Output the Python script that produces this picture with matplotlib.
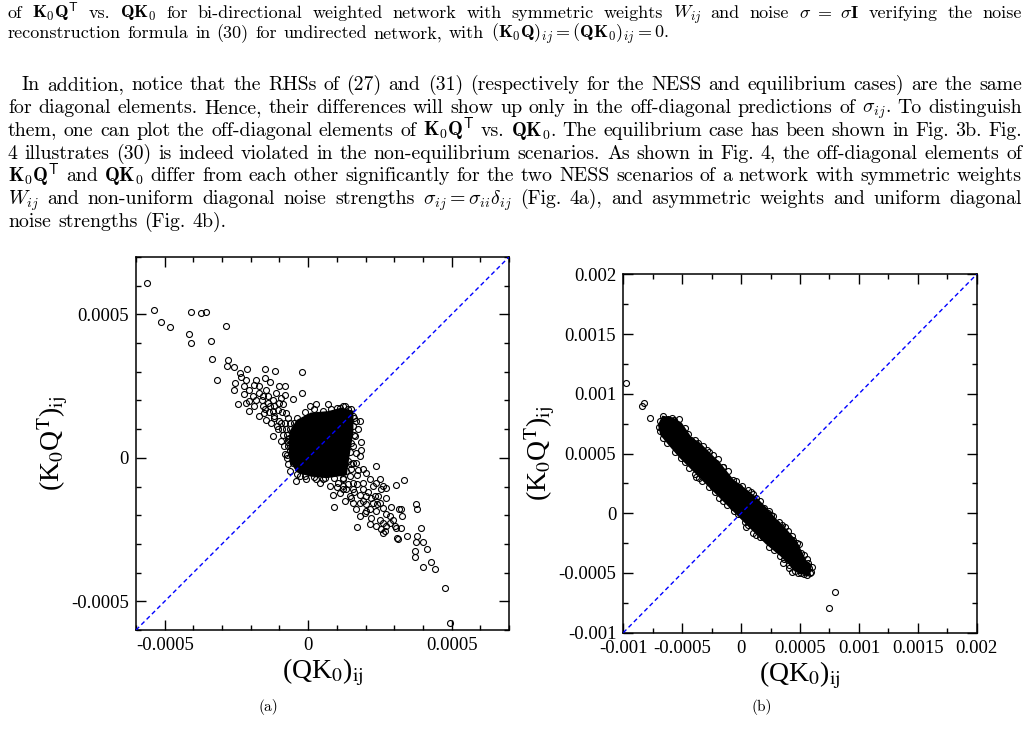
import numpy as np
import matplotlib
matplotlib.use("Agg")
import matplotlib.pyplot as plt

# ---- panel (a): values in units of 1e-4 ----
a_x = [-5.63, -5.38, -5.12, -4.81, -4.10, -4.15, -4.10, -3.73, -3.55, -3.38, -2.88, -3.36,
       -3.16, -2.80, -2.82, -2.58, -2.14, -1.52, -1.17, -2.38, -2.35, -2.56, -2.58, -2.45,
       -2.05, -2.25, -0.21, -0.21, -1.00, -0.79, -0.82, -0.54, -1.82, -1.70, -1.47, -1.59,
       -1.24, -1.93, -2.05, -1.59, -1.47, -1.24, -0.79, -0.75, -0.44, -0.63, -2.05, -2.23,
       -1.88, -1.33, -1.49, -2.17, -1.72, -1.41, -1.12, -0.94, -1.33, -1.06, -0.89, -0.77,
       -1.70, -1.53, -1.18, -0.94, -1.06, -0.89, -0.77, -1.29, -1.82, -2.17, -1.88, -1.24,
       -0.65, -0.71, -0.65, -0.54, -0.30, -0.07, 0.28, 0.57, 0.75, 0.40, 0.05, 0.28,
       0.69, 1.10, 1.39, 1.21, 1.56, 1.68, 1.79, 1.74, 1.62, 1.85, 1.56, 1.68, 1.56,
       0.89, 1.70, 2.35, 3.05, 3.34, 3.75, 3.78, 3.92, 3.80, 3.75, 3.72, 3.72, 4.01,
       4.15, 4.01, 4.28, 4.43, 4.78, 4.94, 3.44, 3.14, 3.11, 3.02, 2.84, 2.73, 2.49,
       2.38, 2.14, 2.61, 2.67, 3.18, 3.23, 2.90, 2.73, 2.55, 2.61, 2.38, 2.14, 2.03,
       1.91, 1.79, 1.56, 1.45, 1.33, 1.56, 1.45, 1.21, 0.86, 1.10, 1.68, 1.79, 1.85,
       1.74, 1.91, 2.03, 2.26, 2.14, 1.97, 2.38, 2.32, 2.49, 1.68, 1.79, 2.20, 1.56,
       1.21, 1.04, 1.33, 2.26, 2.49, 2.73, 2.43, 2.61, 2.84, 2.73, 2.55, 2.96, 3.28,
       3.06, 2.61, 3.25,
       # circles around the saturated centre
       -0.40, -0.10, 0.20, 0.50, 0.80, 1.00, 1.30, 1.50, 1.60, 1.55, 1.60, 1.50, 1.45,
       1.40, 1.50, 1.20, 0.90, 0.50, 0.20, -0.10, -0.40, -0.70, -0.72, -0.70, -0.68,
       -0.62, -0.50,
       # denser parts of the two arms
       -1.40, -1.20, -1.00, -0.90, -0.70, -0.80, -1.00, -1.10, -0.90, -0.75, -1.20, -1.35,
       -1.50, -1.60, -0.95, -0.85, -0.70,
       1.00, 1.20, 1.40, 1.60, 1.80, 1.50, 1.30, 1.90, 2.00, 2.10, 1.70, 1.90, 1.20,
       1.50, 1.70, 2.20, 2.40, 2.00]
a_y = [6.09, 5.16, 4.74, 4.57, 5.09, 4.32, 4.01, 5.05, 5.10, 4.06, 4.59, 3.43,
       2.73, 3.40, 3.21, 3.17, 3.10, 3.11, 3.02, 2.94, 2.82, 2.61, 2.38, 1.89,
       1.62, 2.24, 2.98, 2.26, 2.52, 2.52, 2.20, 2.06, 2.70, 2.49, 2.38, 2.15,
       2.03, 2.15, 1.97, 1.80, 1.33, 0.75, 0.12, 0.00, -0.81, -0.46, 2.38, 2.49,
       2.55, 2.63, 2.78, 2.73, 2.26, 2.15, 2.26, 2.09, 1.80, 1.68, 1.86, 1.57,
       1.45, 1.57, 1.45, 1.22, 0.99, 0.81, 0.99, 1.22, 2.03, 1.91, 1.80, 1.62,
       1.22, 0.64, 0.29, -0.17, -0.64, -0.75, -0.75, -0.70, -0.99, -0.87, 1.80, 1.86,
       1.86, 1.74, 1.71, 1.80, 1.45, 1.28, 1.28, 0.99, 0.75, 0.55, 0.41, 0.17, -0.17,
       -1.72, -2.40, -0.29, -0.93, -0.78, -1.60, -1.77, -2.45, -2.73, -2.92, -3.23, -3.45, -2.94,
       -3.19, -3.79, -3.62, -3.87, -4.54, -5.74, -2.73, -2.84, -2.78, -2.38, -2.26, -1.97, -2.15,
       -2.38, -2.32, -2.61, -2.55, -1.80, -1.77, -1.71, -1.39, -1.10, -0.99, -0.87, -0.75, -0.52,
       -0.87, -1.57, -1.57, -1.33, -1.10, -0.87, -0.64, -0.75, -1.28, -1.22, -0.17, 0.06, 0.29,
       -0.41, -1.10, -1.33, -1.57, -1.80, -1.91, -1.86, -1.33, -1.57, -1.80, -2.03, -2.09, -1.10,
       -0.99, -0.87, -0.46, -0.99, -0.75, -1.05, -1.33, -1.74, -2.03, -2.38, -2.49, -2.15, -2.03,
       -2.44, -2.26, -2.44,
       1.40, 1.60, 1.70, 1.65, 1.70, 1.75, 1.80, 1.70, 1.40, 1.10, 0.80, 0.50, 0.20,
       -0.10, -0.40, -0.70, -0.70, -0.72, -0.68, -0.62, -0.55, -0.20, 0.10, 0.40, 0.70,
       1.00, 1.20,
       1.90, 1.80, 1.90, 1.60, 1.40, 1.20, 1.30, 1.10, 1.00, 0.80, 1.40, 1.60,
       1.70, 2.00, 0.60, 0.40, 0.55,
       -1.00, -1.10, -0.90, -1.20, -1.30, -1.40, -1.50, -1.50, -1.60, -1.20, -0.60, -0.40, -0.45,
       -0.20, -0.90, -1.40, -1.60, -1.85]
# saturated (solid black) centre of the cloud, outline
a_core_x = [-0.66, -0.62, -0.38, 0.10, 0.70, 1.15, 1.55, 1.55, 1.42, 1.32, 0.65, 0.05, -0.38, -0.62]
a_core_y = [0.40, 0.92, 1.30, 1.55, 1.60, 1.72, 1.62, 0.90, 0.10, -0.58, -0.68, -0.62, -0.48, -0.10]

# ---- panel (b): values in units of 1e-4 ----
b_x = [-9.76, -8.40, -8.23, -7.73, 7.44, 8.01,
       -6.99, -6.65, -6.85, -6.42, -5.66, -5.29, -5.52, -6.08, -5.01, -4.24, -3.68, -3.96, -4.67,
       -5.09, -3.82, -3.54, -2.41, -1.84, -0.71, 0.42, 0.99, 1.84,
       -2.69, -2.12, -1.56, -0.71, -0.14, 0.57, 1.27, 1.98, 2.26, 2.55, 2.97, 3.40, 3.71,
       4.39, 4.75, 4.67, 5.09, 5.38, 5.66, 5.80, 5.86, 5.52, 5.09, 4.81, 4.33, 4.10, 3.54,
       4.39, 3.82,
       # upper fringe of the band
       -6.2, -5.9, -4.8, -4.5, -3.9, -3.2, -2.9, -2.4, -2.0, -1.5, -1.1, -0.4, 0.1, 0.8,
       1.0, 1.6, 2.4, 2.7, 3.2, 3.5, 4.0, 4.3, 4.9, 5.3, 5.6, 6.0, 5.9,
       # lower fringe of the band
       -6.9, -6.6, -6.3, -5.6, -4.8, -4.4, -3.9, -3.3, -2.7, -2.2, -1.5, -1.2, -0.6, -0.3,
       0.3, 0.6, 1.3, 1.6, 2.4, 2.8, 3.3, 3.6, 4.1, 4.6, 5.3, 5.6]
b_y = [10.94, 9.00, 9.21, 7.95, -7.90, -6.56,
       7.25, 8.18, 7.76, 7.53, 7.81, 7.90, 7.39, 6.98, 6.84, 6.14, 5.92, 5.58, 5.30,
       4.60, 3.07, 2.93, 2.18, 1.26, 0.56, -1.12, -1.62, -1.95,
       5.16, 4.19, 3.91, 2.79, 2.23, 1.95, 1.26, 0.42, 0.00, -0.14, -0.84, -1.12, -1.12,
       -2.23, -2.46, -2.79, -3.35, -4.19, -4.19, -4.60, -5.02, -4.88, -4.97, -5.02, -4.88, -4.60, -4.19,
       -4.19, -3.63,
       7.9, 8.0, 7.1, 6.6, 6.1, 5.6, 5.3, 4.9, 4.5, 3.9, 3.5, 2.7, 2.3, 1.8,
       1.6, 1.0, 0.2, -0.2, -0.7, -1.0, -1.5, -1.9, -2.6, -3.5, -3.8, -4.5, -4.9,
       6.9, 6.3, 5.9, 5.1, 4.3, 3.8, 3.3, 2.7, 2.2, 1.8, 1.0, 0.7, 0.2, -0.1,
       -0.7, -1.0, -1.8, -2.0, -2.8, -3.1, -3.6, -3.8, -4.3, -4.8, -5.1, -5.2]
b_core_x = [-6.99, -6.65, -5.80, -5.09, -4.24, -3.54, -2.69, -1.84, -0.71, 0.42, 1.27, 2.12,
            2.97, 3.82, 4.67, 5.09, 5.52, 5.94, 5.80, 4.95, 4.39, 3.82, 2.97, 2.12, 0.99,
            -0.14, -0.99, -1.84, -2.97, -4.10, -5.23, -6.08, -6.79]
b_core_y = [7.39, 8.09, 7.95, 7.53, 6.28, 5.86, 5.02, 4.19, 2.79, 1.95, 1.26, 0.42,
            -0.56, -1.40, -2.37, -3.21, -4.05, -4.32, -5.16, -5.02, -4.60, -3.91, -3.21, -2.51, -1.40,
            -0.28, 0.56, 1.40, 2.51, 3.63, 4.74, 5.72, 6.56]

a_ticks = [-0.0005, 0, 0.0005]
a_ticklabels = ["-0.0005", "0", "0.0005"]
b_ticks = [-0.001, -0.0005, 0, 0.0005, 0.001, 0.0015, 0.002]
b_ticklabels = ["-0.001", "-0.0005", "0", "0.0005", "0.001", "0.0015", "0.002"]

S = 1e-4
W, H = 1031, 746
fig = plt.figure(figsize=(W / 100, H / 100), dpi=100)
tfont = "Liberation Serif"
plt.rcParams["mathtext.fontset"] = "stix"


def panel(rect, xs, ys, cx, cy, lim, ticks, labels, minor):
    ax = fig.add_axes(rect)
    ax.fill(np.array(cx) * S, np.array(cy) * S, color="black", lw=1.2, zorder=2)
    ax.plot(np.array(xs) * S, np.array(ys) * S, "o", mfc="none", mec="black",
            ms=4.3, mew=0.8, zorder=3)
    ax.plot(lim, lim, color="#0000ff", lw=1.0, dashes=(3.2, 2.2), zorder=4)
    ax.set_xlim(lim)
    ax.set_ylim(lim)
    ax.set_xticks(ticks)
    ax.set_yticks(ticks)
    ax.set_xticklabels(labels, family=tfont, fontsize=13.5)
    ax.set_yticklabels(labels, family=tfont, fontsize=13.5)
    ax.set_xticks(minor, minor=True)
    ax.set_yticks(minor, minor=True)
    ax.tick_params(which="both", direction="in", top=True, right=True, width=1.0)
    ax.tick_params(which="major", length=7, pad=5)
    ax.tick_params(which="minor", length=3.5)
    for sp in ax.spines.values():
        sp.set_linewidth(1.1)
    ax.set_xlabel(r"(QK$_{0}$)$_{\mathrm{ij}}$", family=tfont, fontsize=20, labelpad=2)
    ax.set_ylabel(r"(K$_{0}$Q$^{\mathrm{T}}$)$_{\mathrm{ij}}$", family=tfont, fontsize=20, labelpad=1)
    return ax


panel([136 / W, 1 - 630 / H, 373 / W, 373 / H], a_x, a_y, a_core_x, a_core_y,
      [-0.0006, 0.0007], a_ticks, a_ticklabels, np.arange(-6, 8) * 1e-4)
panel([623.3 / W, 1 - 632.7 / H, 353.4 / W, 358.4 / H], b_x, b_y, b_core_x, b_core_y,
      [-0.001, 0.002], b_ticks, b_ticklabels, np.arange(-4, 9) * 2.5e-4)

# ---- surrounding page text ----
KQT = r"$\mathbf{K}_0\mathbf{Q}^{\mathsf{T}}$"
QK = r"$\mathbf{QK}_0$"
caption = [
    ("of " + KQT + " vs. " + QK + " for bi-directional weighted network with symmetric weights $W_{ij}$ "
     r"and noise $\sigma\ =\ \sigma\mathbf{I}$ verifying the noise", 18.0, 8, True),
    (r"reconstruction formula in (30) for undirected network, with $(\mathbf{K}_0\mathbf{Q})_{ij}=(\mathbf{QK}_0)_{ij}=0$.",
     38.3, 8, False),
]
para = [
    ("In addition, notice that the RHSs of (27) and (31) (respectively for the NESS and equilibrium cases) are the same", 90.2, 22, True),
    (r"for diagonal elements. Hence, their differences will show up only in the off-diagonal predictions of $\sigma_{ij}$. To distinguish", 113.0, 8, True),
    ("them, one can plot the off-diagonal elements of " + KQT + " vs. " + QK + ". The equilibrium case has been shown in Fig. 3b. Fig.", 135.8, 8, True),
    ("4 illustrates (30) is indeed violated in the non-equilibrium scenarios. As shown in Fig. 4, the off-diagonal elements of", 158.6, 8, True),
    (KQT + " and " + QK + " differ from each other significantly for the two NESS scenarios of a network with symmetric weights", 181.4, 8, True),
    (r"$W_{ij}$ and non-uniform diagonal noise strengths $\sigma_{ij}=\sigma_{ii}\delta_{ij}$ (Fig. 4a), and asymmetric weights and uniform diagonal", 204.2, 8, True),
    ("noise strengths (Fig. 4b).", 227.0, 8, False),
]

renderer = fig.canvas.get_renderer()


def split_words(s):
    out, cur, inmath = [], "", False
    for ch in s:
        if ch == "$":
            inmath = not inmath
        if ch == " " and not inmath:
            if cur:
                out.append(cur)
            cur = ""
        else:
            cur += ch
    if cur:
        out.append(cur)
    return out


def put_line(line, ybase, x0, justify, size):
    words = split_words(line)
    texts = [fig.text(0, 1 - ybase / H, w, fontsize=size, family="cmr10",
                      math_fontfamily="cm", va="baseline", ha="left") for w in words]
    widths = [t.get_window_extent(renderer).width for t in texts]
    if justify and len(words) > 1:
        gap = (1022 - x0 - sum(widths)) / (len(words) - 1)
    else:
        gap = size * 0.36 * 100 / 72
    x = x0
    for t, w in zip(texts, widths):
        t.set_x(x / W)
        x += w + gap


for line, yb, x0, j in caption:
    put_line(line, yb, x0, j, 13.0)
for line, yb, x0, j in para:
    put_line(line, yb, x0, j, 14.3)

fig.text(268 / W, 1 - 711 / H, "(a)", family="cmr10", fontsize=11, ha="center", va="baseline")
fig.text(762 / W, 1 - 711 / H, "(b)", family="cmr10", fontsize=11, ha="center", va="baseline")

fig.savefig("out.png", dpi=100)
